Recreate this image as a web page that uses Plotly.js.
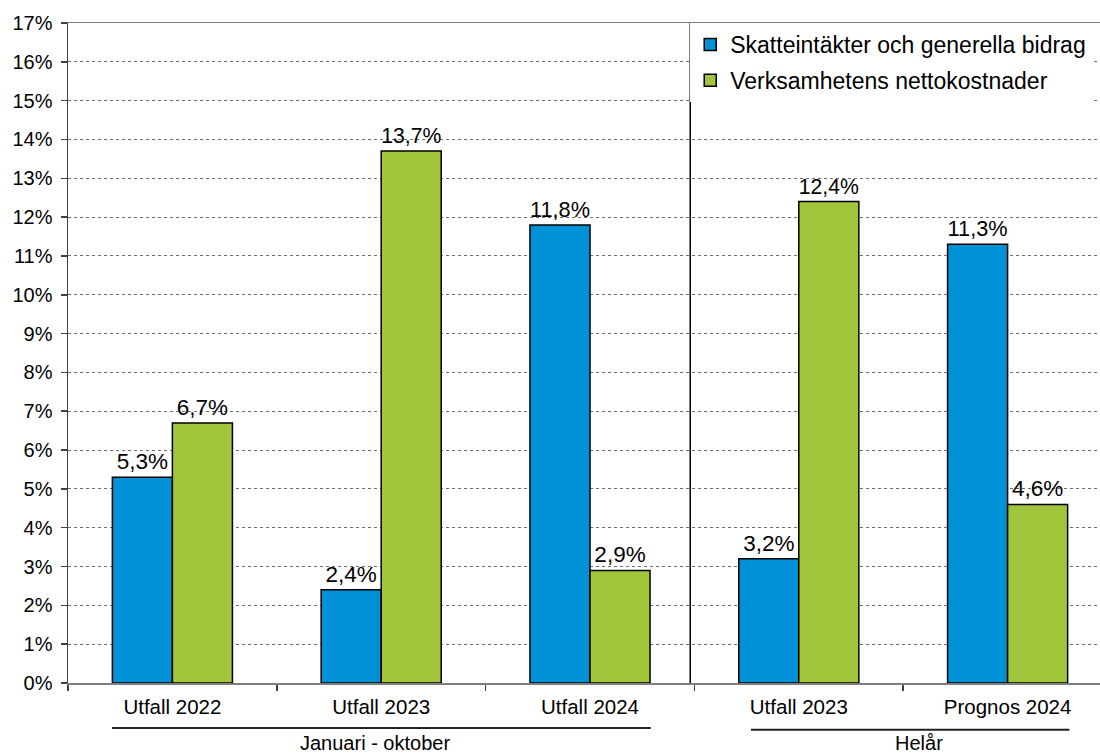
<!DOCTYPE html>
<html>
<head>
<meta charset="utf-8">
<script src="https://cdn.plot.ly/plotly-3.0.1.min.js"></script>
<style>
html,body{margin:0;padding:0;overflow:hidden;background:#fff;}
#chart{width:1112px;height:756px;}
</style>
</head>
<body>
<div id="chart"></div>
<script>
const categories = ["Utfall 2022", "Utfall 2023", "Utfall 2024", "Utfall 2023", "Prognos 2024"];
const seriesNames = ["Skatteintäkter och generella bidrag", "Verksamhetens nettokostnader"];
const skatteintakter = [5.3, 2.4, 11.8, 3.2, 11.3];
const nettokostnader = [6.7, 13.7, 2.9, 12.4, 4.6];
const groupLabels = ["Januari - oktober", "Helår"];
const yTicks = [0,1,2,3,4,5,6,7,8,9,10,11,12,13,14,15,16,17];

const xIdx = categories.map((_, i) => i);
const FONT = "Liberation Sans, Arial, sans-serif";

const common = {
  type: "bar",
  x: xIdx,
  texttemplate: "%{y:.1f}%",
  textposition: "outside",
  cliponaxis: false,
  textfont: {family: FONT, size: 22.5, color: "#000"},
  hoverinfo: "skip"
};

const traces = [
  Object.assign({}, common, {
    name: seriesNames[0], y: skatteintakter, legendgroup: "a",
    marker: {color: "#0091D6", line: {color: "#000", width: 1.5}}
  }),
  Object.assign({}, common, {
    name: seriesNames[1], y: nettokostnader, legendgroup: "b",
    marker: {color: "#A1C53B", line: {color: "#000", width: 1.5}}
  })
];

const layout = {
  width: 1112, height: 756,
  margin: {l: 68, r: 0, t: 23, b: 73},
  paper_bgcolor: "#fff", plot_bgcolor: "#fff",
  separators: ", ",
  barmode: "group",
  bargap: 0.425,
  bargroupgap: 0,
  font: {family: FONT, color: "#000"},
  showlegend: true,
  legend: {
    x: 0.596, xanchor: "left", y: 1.0, yanchor: "top",
    bgcolor: "#fff", borderwidth: 0,
    font: {family: FONT, size: 23, color: "#000"},
    traceorder: "grouped", tracegroupgap: 3,
    itemclick: false
  },
  xaxis: {
    range: [-0.5, 4.5],
    tickmode: "array", tickvals: xIdx, ticktext: categories,
    ticks: "", showgrid: false, zeroline: false,
    showline: true, linecolor: "#7f7f7f", linewidth: 1.5, mirror: true,
    tickfont: {family: FONT, size: 20.5, color: "#000"},
    ticklabelstandoff: 5,
    minor: {tickmode: "array", tickvals: [-0.5, 0.5, 1.5, 2.5, 3.5, 4.5], ticks: "outside", ticklen: 6, tickcolor: "#404040", tickwidth: 1.5, showgrid: false},
    fixedrange: true
  },
  yaxis: {
    range: [0, 17],
    tickmode: "array", tickvals: yTicks, ticktext: yTicks.map(v => v + "%"),
    ticks: "outside", ticklen: 6, tickcolor: "#404040", tickwidth: 1.5,
    showline: true, linecolor: "#404040", linewidth: 1.5,
    showgrid: true, gridcolor: "#6f6f6f", gridwidth: 1, griddash: "dot",
    zeroline: false,
    tickfont: {family: FONT, size: 20, color: "#000"},
    ticklabelstandoff: 4,
    fixedrange: true
  },
  shapes: [
    {type: "line", xref: "x", yref: "y", x0: 2.48, x1: 2.48, y0: 0, y1: 17, line: {color: "#000", width: 1.5}},
    {type: "line", xref: "x", yref: "paper", x0: -0.289, x1: 2.291, y0: -0.068, y1: -0.068, line: {color: "#222", width: 2}},
    {type: "line", xref: "x", yref: "paper", x0: 2.771, x1: 4.296, y0: -0.071, y1: -0.071, line: {color: "#222", width: 2}}
  ],
  annotations: [
    {xref: "x", yref: "paper", x: 0.968, y: -0.0915, text: groupLabels[0], showarrow: false, xanchor: "center", yanchor: "middle", font: {family: FONT, size: 20, color: "#000"}},
    {xref: "x", yref: "paper", x: 3.577, y: -0.0915, text: groupLabels[1], showarrow: false, xanchor: "center", yanchor: "middle", font: {family: FONT, size: 20, color: "#000"}}
  ]
};

Plotly.newPlot("chart", traces, layout, {displayModeBar: false, staticPlot: true});
</script>
</body>
</html>
